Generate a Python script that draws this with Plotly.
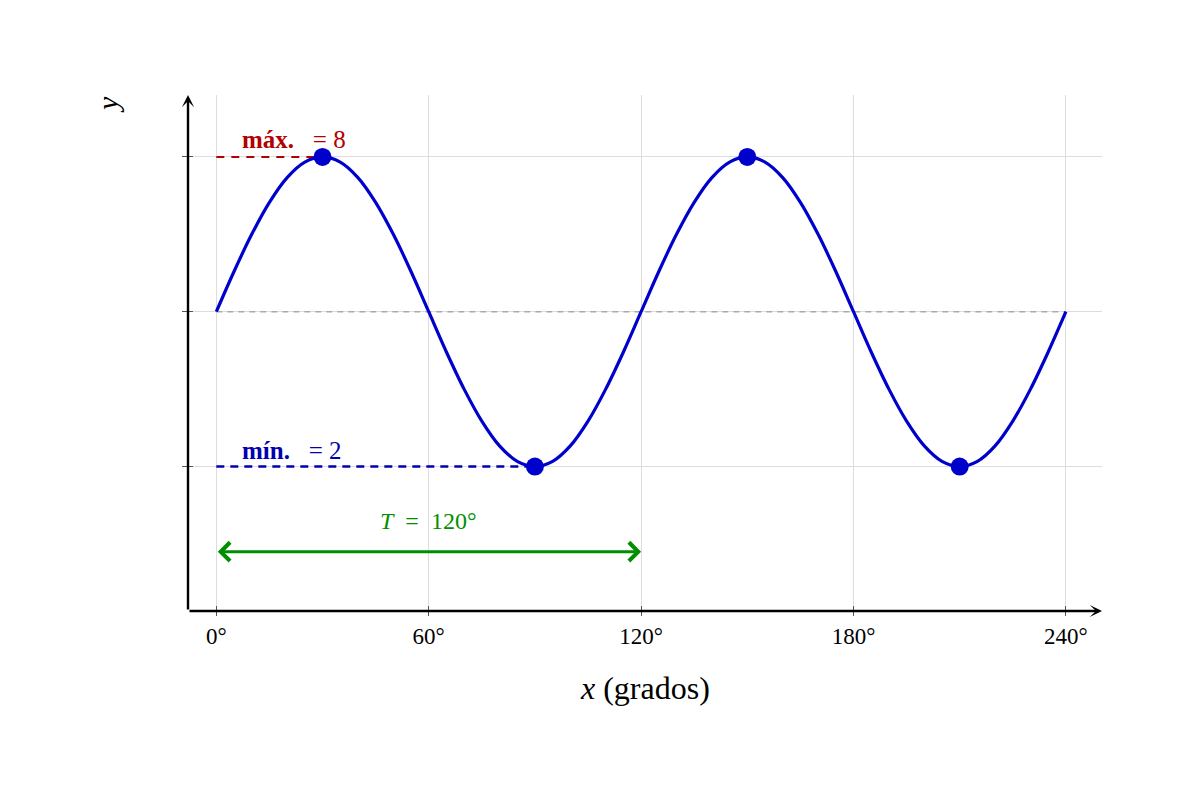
import plotly.graph_objects as go

# ---- data ----
x_deg = [0, 5, 10, 15, 20, 25, 30, 35, 40, 45, 50, 55, 60, 65, 70, 75, 80, 85, 90,
         95, 100, 105, 110, 115, 120, 125, 130, 135, 140, 145, 150, 155, 160, 165,
         170, 175, 180, 185, 190, 195, 200, 205, 210, 215, 220, 225, 230, 235, 240]
y_val = [5.0, 5.78, 6.5, 7.12, 7.6, 7.9, 8.0, 7.9, 7.6, 7.12, 6.5, 5.78, 5.0, 4.22,
         3.5, 2.88, 2.4, 2.1, 2.0, 2.1, 2.4, 2.88, 3.5, 4.22, 5.0, 5.78, 6.5, 7.12,
         7.6, 7.9, 8.0, 7.9, 7.6, 7.12, 6.5, 5.78, 5.0, 4.22, 3.5, 2.88, 2.4, 2.1,
         2.0, 2.1, 2.4, 2.88, 3.5, 4.22, 5.0]
ext_x = [30, 90, 150, 210]
ext_y = [8, 2, 8, 2]
y_max = 8
y_min = 2
y_mid = 5
x_max_first = 30
x_min_first = 90
period_start = 0
period_end = 120
period_y = 0.35
x_tick_vals = [0, 60, 120, 180, 240]
x_tick_text = ["0°", "60°", "120°", "180°", "240°"]
y_tick_vals = [2, 5, 8]

FONT = "Liberation Serif"
BLUE = "#0000CC"
NAVY = "#0000B0"
RED = "#B30000"
GREEN = "#008F00"
NB = "\u00a0"

fig = go.Figure()

# midline
fig.add_trace(go.Scatter(x=[x_deg[0], x_deg[-1]], y=[y_mid, y_mid], mode="lines",
                         line=dict(color="#AAAAAA", width=1.5, dash="6px,5px"),
                         hoverinfo="skip", showlegend=False))
# max dashed
fig.add_trace(go.Scatter(x=[x_deg[0], x_max_first], y=[y_max, y_max], mode="lines",
                         line=dict(color=RED, width=2, dash="8px,7px"),
                         hoverinfo="skip", showlegend=False))
# min dashed
fig.add_trace(go.Scatter(x=[x_deg[0], x_min_first], y=[y_min, y_min], mode="lines",
                         line=dict(color=NAVY, width=2.5, dash="8px,6px"),
                         hoverinfo="skip", showlegend=False))
# curve
fig.add_trace(go.Scatter(x=x_deg, y=y_val, mode="lines",
                         line=dict(color=BLUE, width=3.2, shape="spline", smoothing=1),
                         showlegend=False))
# extrema
fig.add_trace(go.Scatter(x=ext_x, y=ext_y, mode="markers",
                         marker=dict(color=BLUE, size=18, line=dict(width=0)),
                         showlegend=False))

# the page body adds an 8px offset, so the figure is sized/shifted to compensate
OFF = 8
W, H = 1200 - 2 * OFF, 800 - 2 * OFF
pw, ph = 914, 516
ml, mt = 188 - OFF, 95 - OFF
mr, mb = W - ml - pw, H - mt - ph
bottom_px = 611  # screen y of plot bottom
left_px = 188

fig.update_layout(
    width=W, height=H,
    margin=dict(l=ml, r=mr, t=mt, b=mb, autoexpand=False),
    paper_bgcolor="white", plot_bgcolor="white",
    font=dict(family=FONT, color="black"),
    xaxis=dict(range=[-8, 250.2], tickvals=x_tick_vals, ticktext=x_tick_text,
               showgrid=True, gridcolor="#DDDDDD", gridwidth=1, zeroline=False,
               showline=False, ticks="outside", ticklen=10, tickwidth=1,
               tickcolor="#555555", anchor="free", position=6 / ph,
               tickfont=dict(family=FONT, size=23, color="black")),
    yaxis=dict(range=[-0.8, 9.2], tickvals=y_tick_vals, showticklabels=False,
               showgrid=True, gridcolor="#DDDDDD", gridwidth=1, zeroline=False,
               showline=False, ticks="outside", ticklen=11, tickwidth=1,
               tickcolor="#555555", anchor="free", position=5 / pw),
)

annotations = [
    # x axis arrow
    dict(xref="paper", yref="paper", x=1, y=0, axref="pixel", ayref="pixel",
         ax=-pw, ay=0, showarrow=True, arrowhead=3, arrowsize=0.85, arrowwidth=2.4,
         arrowcolor="black", standoff=0, text=""),
    # y axis arrow
    dict(xref="paper", yref="paper", x=0, y=1, axref="pixel", ayref="pixel",
         ax=0, ay=ph, showarrow=True, arrowhead=3, arrowsize=0.85, arrowwidth=2.4,
         arrowcolor="black", standoff=0, text=""),
    # period arrow
    dict(xref="x", yref="y", x=period_end, y=period_y, axref="x", ayref="y",
         ax=period_start, ay=period_y, showarrow=True, arrowside="end+start",
         arrowhead=4, startarrowhead=4, arrowsize=1.2, startarrowsize=1.2,
         arrowwidth=3, arrowcolor=GREEN, standoff=0, startstandoff=0, text=""),
    dict(xref="x", yref="y", x=(period_start + period_end) / 2, y=period_y,
         yshift=31, showarrow=False,
         text=f"<i>T</i>{NB}{NB}={NB}{NB}120°",
         font=dict(family=FONT, size=24, color=GREEN)),
    dict(xref="x", yref="y", x=6.8, y=y_max, xanchor="left", yanchor="middle",
         yshift=17, showarrow=False,
         text=f"<b>máx.</b>{NB}{NB}{NB}={NB}8",
         font=dict(family=FONT, size=25, color=RED)),
    dict(xref="x", yref="y", x=6.8, y=y_min, xanchor="left", yanchor="middle",
         yshift=16, showarrow=False,
         text=f"<b>mín.</b>{NB}{NB}{NB}={NB}2",
         font=dict(family=FONT, size=25, color=NAVY)),
    # axis titles
    dict(xref="paper", yref="paper", x=(645 - left_px) / pw,
         y=-(688 - bottom_px) / ph,
         xanchor="center", yanchor="middle", showarrow=False,
         text="<i>x</i> (grados)", font=dict(family=FONT, size=32, color="black")),
    dict(xref="paper", yref="paper", x=(107 - left_px) / pw,
         y=(bottom_px - 105) / ph,
         xanchor="center", yanchor="middle", showarrow=False, textangle=-90,
         text="<i>y</i>", font=dict(family=FONT, size=30, color="black")),
]
fig.update_layout(annotations=annotations)

fig.write_html("out.html")
